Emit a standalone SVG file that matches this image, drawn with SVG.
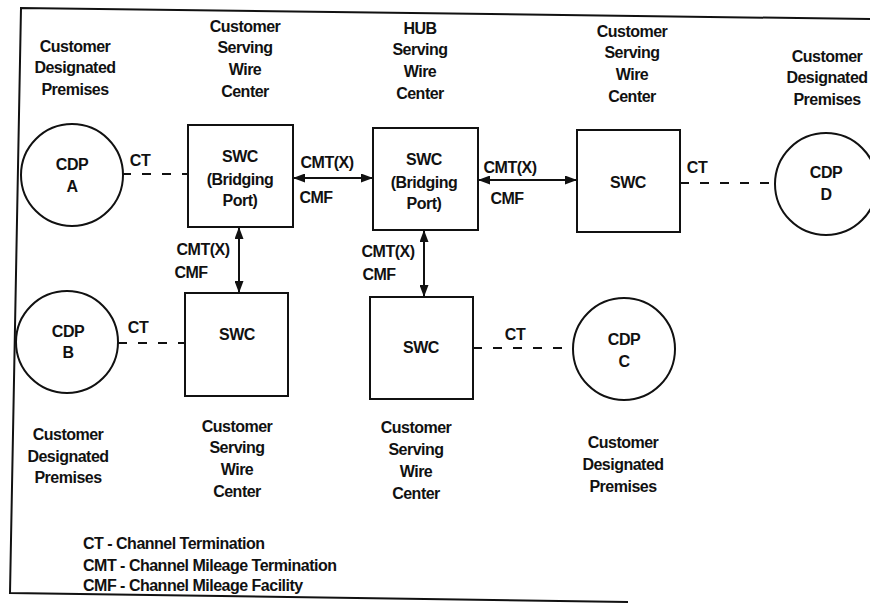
<svg xmlns="http://www.w3.org/2000/svg" width="870" height="603" viewBox="0 0 870 603">
<style>
text{font-family:"Liberation Sans",Arial,sans-serif;font-weight:bold;font-size:16px;letter-spacing:-0.5px;fill:#111;text-anchor:middle}
.l{text-anchor:start}
.box{fill:#fff;stroke:#111;stroke-width:2}
.ln{fill:none;stroke:#111;stroke-width:2}
.dash{fill:none;stroke:#111;stroke-width:2;stroke-dasharray:9 11}
</style>
<defs>
<marker id="ah" viewBox="0 0 12 9" refX="12" refY="4.5" markerWidth="12" markerHeight="9" markerUnits="userSpaceOnUse" orient="auto-start-reverse">
<path d="M0,0 L12,4.5 L0,9 Z" fill="#111"/>
</marker>
</defs>
<rect width="870" height="603" fill="#fff"/>
<polyline class="ln" points="870,19 21,8 10,593 628,602"/>

<g id="connectors">
<line class="dash" x1="122" y1="174" x2="188" y2="174"/>
<line class="dash" x1="118" y1="343" x2="185" y2="343"/>
<line class="dash" x1="473" y1="348" x2="573" y2="348"/>
<line class="dash" x1="680" y1="183" x2="776" y2="183"/>
<line class="ln" x1="293" y1="178" x2="373" y2="178" marker-start="url(#ah)" marker-end="url(#ah)"/>
<line class="ln" x1="478" y1="180" x2="577" y2="180" marker-start="url(#ah)" marker-end="url(#ah)"/>
<line class="ln" x1="239" y1="227" x2="239" y2="293" marker-start="url(#ah)" marker-end="url(#ah)"/>
<line class="ln" x1="424" y1="230" x2="424" y2="297" marker-start="url(#ah)" marker-end="url(#ah)"/>
<text x="140" y="166">CT</text>
<text x="138" y="333">CT</text>
<text x="515" y="340">CT</text>
<text x="697" y="173">CT</text>
<text x="327" y="168">CMT(X)</text>
<text x="316" y="203">CMF</text>
<text x="510" y="173">CMT(X)</text>
<text x="507" y="204">CMF</text>
<text x="203" y="255">CMT(X)</text>
<text x="191" y="278">CMF</text>
<text x="388" y="257">CMT(X)</text>
<text x="379" y="280">CMF</text>
</g>

<g id="cdpA">
<circle class="box" cx="72" cy="175" r="51"/>
<text x="72" y="170">CDP</text>
<text x="72" y="192">A</text>
</g>
<g id="cdpB">
<circle class="box" cx="67" cy="342" r="51"/>
<text x="68" y="337">CDP</text>
<text x="68" y="358">B</text>
</g>
<g id="cdpC">
<circle class="box" cx="624" cy="349" r="51"/>
<text x="624" y="345">CDP</text>
<text x="624" y="367">C</text>
</g>
<g id="cdpD">
<circle class="box" cx="826" cy="184" r="51"/>
<text x="826" y="178">CDP</text>
<text x="826" y="200">D</text>
</g>

<g id="swc1">
<rect class="box" x="188" y="125" width="105" height="102"/>
<text x="240" y="162">SWC</text>
<text x="240" y="185">(Bridging</text>
<text x="240" y="206">Port)</text>
</g>
<g id="swcHub">
<rect class="box" x="373" y="128" width="105" height="102"/>
<text x="424" y="165">SWC</text>
<text x="424" y="188">(Bridging</text>
<text x="424" y="209">Port)</text>
</g>
<g id="swcRight">
<rect class="box" x="577" y="130" width="103" height="102"/>
<text x="628" y="188">SWC</text>
</g>
<g id="swcB">
<rect class="box" x="185" y="293" width="103" height="103"/>
<text x="237" y="340">SWC</text>
</g>
<g id="swcC">
<rect class="box" x="370" y="297" width="103" height="102"/>
<text x="421" y="353">SWC</text>
</g>

<g id="labels">
<text x="75" y="52">Customer</text>
<text x="75" y="73">Designated</text>
<text x="75" y="95">Premises</text>
<text x="245" y="32">Customer</text>
<text x="245" y="53">Serving</text>
<text x="245" y="75">Wire</text>
<text x="245" y="97">Center</text>
<text x="420" y="34">HUB</text>
<text x="420" y="55">Serving</text>
<text x="420" y="77">Wire</text>
<text x="420" y="99">Center</text>
<text x="632" y="37">Customer</text>
<text x="632" y="58">Serving</text>
<text x="632" y="80">Wire</text>
<text x="632" y="102">Center</text>
<text x="827" y="62">Customer</text>
<text x="827" y="83">Designated</text>
<text x="827" y="105">Premises</text>
<text x="68" y="440">Customer</text>
<text x="68" y="462">Designated</text>
<text x="68" y="483">Premises</text>
<text x="237" y="432">Customer</text>
<text x="237" y="453">Serving</text>
<text x="237" y="475">Wire</text>
<text x="237" y="497">Center</text>
<text x="416" y="433">Customer</text>
<text x="416" y="455">Serving</text>
<text x="416" y="477">Wire</text>
<text x="416" y="499">Center</text>
<text x="623" y="448">Customer</text>
<text x="623" y="470">Designated</text>
<text x="623" y="492">Premises</text>
</g>

<g id="legend">
<text class="l" x="83" y="549">CT - Channel Termination</text>
<text class="l" x="83" y="571">CMT - Channel Mileage Termination</text>
<text class="l" x="83" y="591">CMF - Channel Mileage Facility</text>
</g>
</svg>
